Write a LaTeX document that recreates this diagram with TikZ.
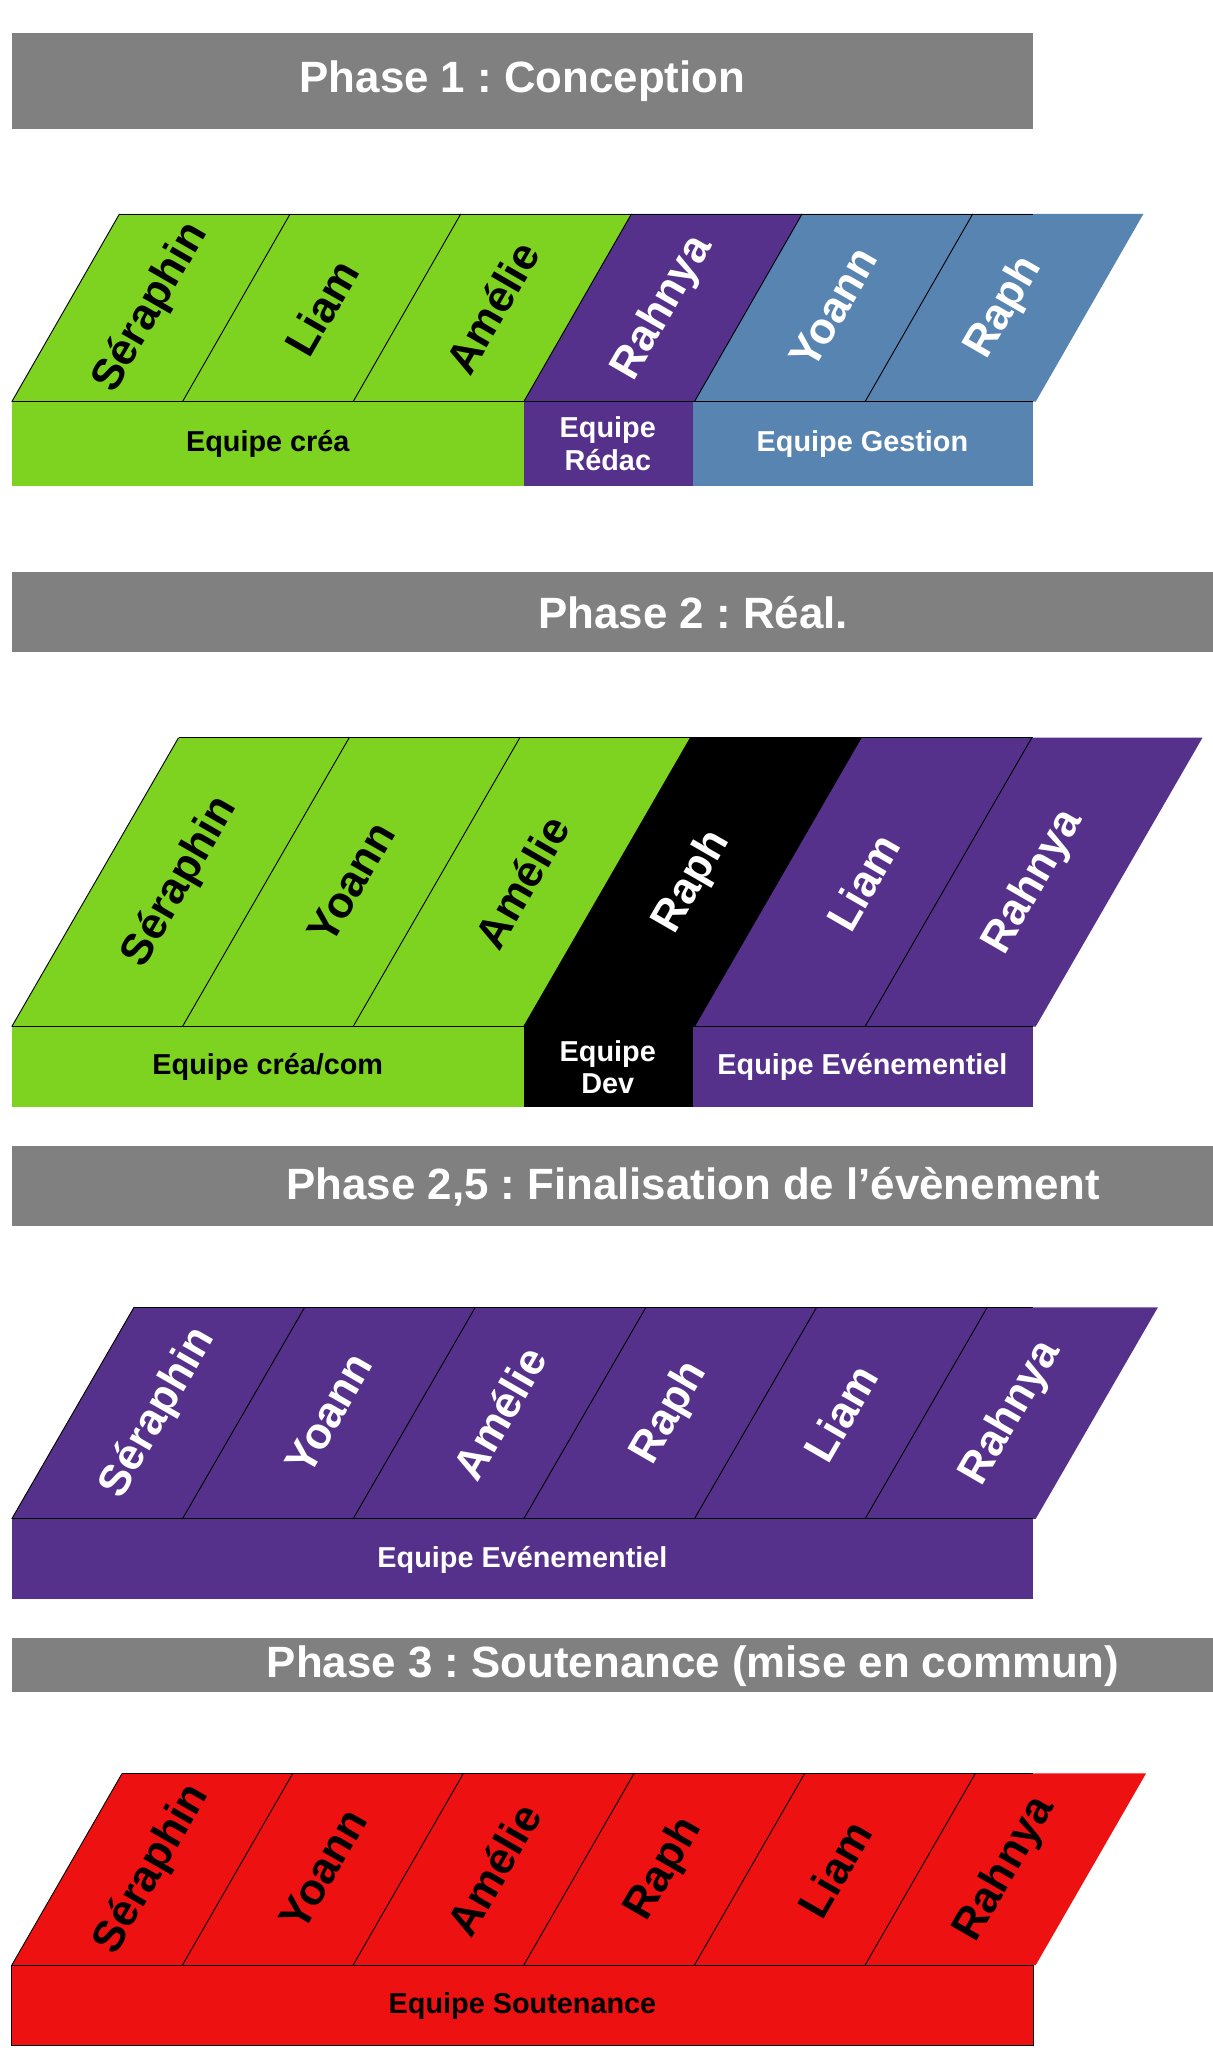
\documentclass[tikz,border=0pt]{standalone}
\usepackage{fontspec}
\setmainfont{Liberation Sans}
\frenchspacing
\definecolor{crea}{HTML}{7ED321}
\definecolor{violet}{HTML}{55318C}
\definecolor{gestion}{HTML}{5884B1}
\definecolor{soute}{HTML}{EE1111}
\definecolor{gris}{HTML}{808080}
\tikzset{
  phase/.style={font=\bfseries\fontsize{19}{22}\selectfont,text=white},
  nom/.style={font=\bfseries\fontsize{19}{22}\selectfont,rotate=60},
  equipe/.style={font=\bfseries\fontsize{12.5}{14}\selectfont,align=center}
}
\begin{document}
\begin{tikzpicture}[x=0.02cm,y=-0.02cm]
\useasboundingbox (0,0) rectangle (924,1567);
% entetes
\fill[gris](9,25)rectangle(787,98);
\node[phase](p1)at(398,62){Phase 1 : Conception};
\fill[gris](9,436)rectangle(924,497);
\node[phase](p2)at(528,467){Phase 2 : Réal.};
\fill[gris](9,873)rectangle(924,934);
\node[phase](p25)at(528,904){Phase 2,5 : Finalisation de l’évènement};
\fill[gris](9,1248)rectangle(924,1289);
\node[phase](p3)at(528,1269){Phase 3 : Soutenance (mise en commun)};
% phase 1
\pgfmathsetmacro{\ktop}{163}\pgfmathsetmacro{\kbot}{306}\pgfmathsetmacro{\koff}{82}
\foreach \i/\nm/\fc/\tc in {0/Séraphin/crea/black,1/Liam/crea/black,2/Amélie/crea/black,3/Rahnya/violet/white,4/Yoann/gestion/white,5/Raph/gestion/white}{
  \fill[\fc](9+130*\i,\kbot)--++(130,0)--(139+130*\i+\koff,\ktop)--(9+130*\i+\koff,\ktop)--cycle;
  \node[nom,text=\tc](a\i)at(74+130*\i+\koff/2,\ktop/2+\kbot/2){\nm};}
\foreach \i in {0,...,5}{\draw(9+130*\i,\kbot)--(9+130*\i+\koff,\ktop);}
\draw(9+\koff,\ktop)--(787,\ktop);
\draw(9,\kbot)--(787,\kbot);
\fill[crea](9,306)rectangle(399,370);
\fill[violet](399,306)rectangle(528,370);
\fill[gestion](528,306)rectangle(787,370);
\node[equipe](ea1)at(204,338){Equipe créa};
\node[equipe,text=white](ea2)at(463,338){Equipe\\Rédac};
\node[equipe,text=white](ea3)at(657,338){Equipe Gestion};
% phase 2
\pgfmathsetmacro{\ktop}{562}\pgfmathsetmacro{\kbot}{782}\pgfmathsetmacro{\koff}{127}
\foreach \i/\nm/\fc/\tc in {0/Séraphin/crea/black,1/Yoann/crea/black,2/Amélie/crea/black,3/Raph/black/white,4/Liam/violet/white,5/Rahnya/violet/white}{
  \fill[\fc](9+130*\i,\kbot)--++(130,0)--(139+130*\i+\koff,\ktop)--(9+130*\i+\koff,\ktop)--cycle;
  \node[nom,text=\tc](b\i)at(74+130*\i+\koff/2,\ktop/2+\kbot/2){\nm};}
\foreach \i in {0,...,5}{\draw(9+130*\i,\kbot)--(9+130*\i+\koff,\ktop);}
\draw(9+\koff,\ktop)--(787,\ktop);
\draw(9,\kbot)--(787,\kbot);
\fill[crea](9,782)rectangle(399,843);
\fill[black](399,782)rectangle(528,843);
\fill[violet](528,782)rectangle(787,843);
\node[equipe](eb1)at(204,813){Equipe créa/com};
\node[equipe,text=white](eb2)at(463,813){Equipe\\Dev};
\node[equipe,text=white](eb3)at(657,813){Equipe Evénementiel};
% phase 2,5
\pgfmathsetmacro{\ktop}{996}\pgfmathsetmacro{\kbot}{1157}\pgfmathsetmacro{\koff}{93}
\foreach \i/\nm in {0/Séraphin,1/Yoann,2/Amélie,3/Raph,4/Liam,5/Rahnya}{
  \fill[violet](9+130*\i,\kbot)--++(130,0)--(139+130*\i+\koff,\ktop)--(9+130*\i+\koff,\ktop)--cycle;
  \node[nom,text=white](c\i)at(74+130*\i+\koff/2,\ktop/2+\kbot/2){\nm};}
\foreach \i in {0,...,5}{\draw(9+130*\i,\kbot)--(9+130*\i+\koff,\ktop);}
\draw(9+\koff,\ktop)--(787,\ktop);
\draw(9,\kbot)--(787,\kbot);
\fill[violet](9,1157)rectangle(787,1218);
\node[equipe,text=white](ec)at(398,1188){Equipe Evénementiel};
% phase 3
\pgfmathsetmacro{\ktop}{1351}\pgfmathsetmacro{\kbot}{1497}\pgfmathsetmacro{\koff}{84}
\foreach \i/\nm in {0/Séraphin,1/Yoann,2/Amélie,3/Raph,4/Liam,5/Rahnya}{
  \fill[soute](9+130*\i,\kbot)--++(130,0)--(139+130*\i+\koff,\ktop)--(9+130*\i+\koff,\ktop)--cycle;
  \node[nom](d\i)at(74+130*\i+\koff/2,\ktop/2+\kbot/2){\nm};}
\foreach \i in {0,...,5}{\draw(9+130*\i,\kbot)--(9+130*\i+\koff,\ktop);}
\draw(9+\koff,\ktop)--(787,\ktop);
\draw[fill=soute](9,1497)rectangle(787,1558);
\node[equipe](ed)at(398,1528){Equipe Soutenance};
\end{tikzpicture}
\end{document}
